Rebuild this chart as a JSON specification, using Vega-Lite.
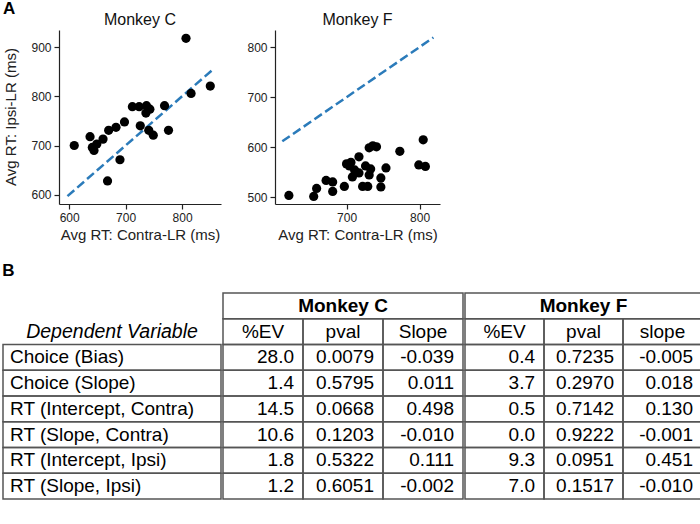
{
  "$schema": "https://vega.github.io/schema/vega-lite/v6.json",
  "padding": {"left": 2, "top": 0, "right": 1, "bottom": 2},
  "background": "white",
  "config": {
    "font": "Liberation Sans",
    "view": {"stroke": null},
    "axis": {"grid": false, "domainColor": "#222", "tickColor": "#222", "labelColor": "#222", "titleColor": "#222", "labelFontSize": 12, "titleFontSize": 15, "titleFontWeight": "normal", "tickSize": 5, "labelPadding": 3, "domainWidth": 1.2, "tickWidth": 1.2},
    "title": {"fontSize": 16, "fontWeight": "normal", "color": "#111"}
  },
  "datasets": {
    "ytitle": [{"t": "Avg RT: Ipsi-LR (ms)"}],
    "ptsC": [{"x":807,"y":918},{"x":850,"y":821},{"x":816,"y":806},{"x":609,"y":700},{"x":637,"y":718},{"x":641,"y":696},{"x":644,"y":690},{"x":649,"y":703},{"x":660,"y":713},{"x":670,"y":731},{"x":683,"y":737},{"x":698,"y":748},{"x":690,"y":671},{"x":668,"y":628},{"x":712,"y":779},{"x":724,"y":779},{"x":737,"y":781},{"x":743,"y":774},{"x":736,"y":766},{"x":769,"y":781},{"x":726,"y":740},{"x":741,"y":731},{"x":749,"y":721},{"x":776,"y":731}],
    "ptsF": [{"x":621,"y":504},{"x":655,"y":502},{"x":659,"y":518},{"x":672,"y":534},{"x":681,"y":531},{"x":681,"y":512},{"x":697,"y":522},{"x":700,"y":567},{"x":704,"y":563},{"x":706,"y":570},{"x":708,"y":541},{"x":711,"y":555},{"x":717,"y":581},{"x":717,"y":549},{"x":726,"y":563},{"x":722,"y":522},{"x":729,"y":522},{"x":731,"y":545},{"x":731,"y":599},{"x":736,"y":603},{"x":741,"y":601},{"x":733,"y":557},{"x":747,"y":539},{"x":747,"y":521},{"x":754,"y":559},{"x":773,"y":592},{"x":799,"y":565},{"x":805,"y":615},{"x":808,"y":562}],
    "lineC": [{"x":597,"y":597},{"x":857,"y":857}],
    "lineF": [{"x":612,"y":612},{"x":819,"y":819}],
    "labels": [
      {"row":"sub","kind":"head","col":"label","text":"Dependent Variable"},
      {"row":"Choice (Bias)","kind":"body","col":"label","text":"Choice (Bias)"},
      {"row":"Choice (Slope)","kind":"body","col":"label","text":"Choice (Slope)"},
      {"row":"RT (Intercept, Contra)","kind":"body","col":"label","text":"RT (Intercept, Contra)"},
      {"row":"RT (Slope, Contra)","kind":"body","col":"label","text":"RT (Slope, Contra)"},
      {"row":"RT (Intercept, Ipsi)","kind":"body","col":"label","text":"RT (Intercept, Ipsi)"},
      {"row":"RT (Slope, Ipsi)","kind":"body","col":"label","text":"RT (Slope, Ipsi)"}
    ],
    "cells": [
      {"monkey":"C","row":"hdr","col":"all","text":"Monkey C"},
      {"monkey":"C","row":"sub","col":"ev","text":"%EV"},
      {"monkey":"C","row":"sub","col":"pval","text":"pval"},
      {"monkey":"C","row":"sub","col":"slope","text":"Slope"},
      {"monkey":"C","row":"Choice (Bias)","col":"ev","text":"28.0"},
      {"monkey":"C","row":"Choice (Bias)","col":"pval","text":"0.0079"},
      {"monkey":"C","row":"Choice (Bias)","col":"slope","text":"-0.039"},
      {"monkey":"C","row":"Choice (Slope)","col":"ev","text":"1.4"},
      {"monkey":"C","row":"Choice (Slope)","col":"pval","text":"0.5795"},
      {"monkey":"C","row":"Choice (Slope)","col":"slope","text":"0.011"},
      {"monkey":"C","row":"RT (Intercept, Contra)","col":"ev","text":"14.5"},
      {"monkey":"C","row":"RT (Intercept, Contra)","col":"pval","text":"0.0668"},
      {"monkey":"C","row":"RT (Intercept, Contra)","col":"slope","text":"0.498"},
      {"monkey":"C","row":"RT (Slope, Contra)","col":"ev","text":"10.6"},
      {"monkey":"C","row":"RT (Slope, Contra)","col":"pval","text":"0.1203"},
      {"monkey":"C","row":"RT (Slope, Contra)","col":"slope","text":"-0.010"},
      {"monkey":"C","row":"RT (Intercept, Ipsi)","col":"ev","text":"1.8"},
      {"monkey":"C","row":"RT (Intercept, Ipsi)","col":"pval","text":"0.5322"},
      {"monkey":"C","row":"RT (Intercept, Ipsi)","col":"slope","text":"0.111"},
      {"monkey":"C","row":"RT (Slope, Ipsi)","col":"ev","text":"1.2"},
      {"monkey":"C","row":"RT (Slope, Ipsi)","col":"pval","text":"0.6051"},
      {"monkey":"C","row":"RT (Slope, Ipsi)","col":"slope","text":"-0.002"},
      {"monkey":"F","row":"hdr","col":"all","text":"Monkey F"},
      {"monkey":"F","row":"sub","col":"ev","text":"%EV"},
      {"monkey":"F","row":"sub","col":"pval","text":"pval"},
      {"monkey":"F","row":"sub","col":"slope","text":"slope"},
      {"monkey":"F","row":"Choice (Bias)","col":"ev","text":"0.4"},
      {"monkey":"F","row":"Choice (Bias)","col":"pval","text":"0.7235"},
      {"monkey":"F","row":"Choice (Bias)","col":"slope","text":"-0.005"},
      {"monkey":"F","row":"Choice (Slope)","col":"ev","text":"3.7"},
      {"monkey":"F","row":"Choice (Slope)","col":"pval","text":"0.2970"},
      {"monkey":"F","row":"Choice (Slope)","col":"slope","text":"0.018"},
      {"monkey":"F","row":"RT (Intercept, Contra)","col":"ev","text":"0.5"},
      {"monkey":"F","row":"RT (Intercept, Contra)","col":"pval","text":"0.7142"},
      {"monkey":"F","row":"RT (Intercept, Contra)","col":"slope","text":"0.130"},
      {"monkey":"F","row":"RT (Slope, Contra)","col":"ev","text":"0.0"},
      {"monkey":"F","row":"RT (Slope, Contra)","col":"pval","text":"0.9222"},
      {"monkey":"F","row":"RT (Slope, Contra)","col":"slope","text":"-0.001"},
      {"monkey":"F","row":"RT (Intercept, Ipsi)","col":"ev","text":"9.3"},
      {"monkey":"F","row":"RT (Intercept, Ipsi)","col":"pval","text":"0.0951"},
      {"monkey":"F","row":"RT (Intercept, Ipsi)","col":"slope","text":"0.451"},
      {"monkey":"F","row":"RT (Slope, Ipsi)","col":"ev","text":"7.0"},
      {"monkey":"F","row":"RT (Slope, Ipsi)","col":"pval","text":"0.1517"},
      {"monkey":"F","row":"RT (Slope, Ipsi)","col":"slope","text":"-0.010"}
    ]
  },
  "spacing": 20,
  "vconcat": [
    {
      "title": {"text": "A", "anchor": "start", "fontSize": 17, "fontWeight": "bold", "color": "#000", "offset": -6},
      "spacing": 9,
      "resolve": {"scale": {"x": "independent", "y": "independent"}},
      "hconcat": [
        {
          "width": 16, "height": 174,
          "data": {"name": "ytitle"},
          "mark": {"type": "text", "angle": 270, "fontSize": 15, "color": "#222"},
          "encoding": {"text": {"field": "t"}}
        },
        {
          "width": 162, "height": 174,
          "title": {"text": "Monkey C", "offset": 2},
          "layer": [
            {
              "data": {"name": "lineC"},
              "mark": {"type": "line", "strokeDash": [9, 4], "strokeWidth": 2.5, "color": "#2b7bba"},
              "encoding": {
                "x": {"field": "x", "type": "quantitative", "scale": {"domain": [582, 869], "nice": false, "zero": false}, "axis": {"values": [600, 700, 800], "title": "Avg RT: Contra-LR (ms)"}},
                "y": {"field": "y", "type": "quantitative", "scale": {"domain": [581, 935], "nice": false, "zero": false}, "axis": {"values": [600, 700, 800, 900], "title": null, "minExtent": 30}}
              }
            },
            {
              "data": {"name": "ptsC"},
              "mark": {"type": "circle", "size": 85, "color": "#000", "opacity": 1},
              "encoding": {
                "x": {"field": "x", "type": "quantitative"},
                "y": {"field": "y", "type": "quantitative"}
              }
            }
          ]
        },
        {
          "width": 165, "height": 174,
          "title": {"text": "Monkey F", "offset": 2},
          "layer": [
            {
              "data": {"name": "lineF"},
              "mark": {"type": "line", "strokeDash": [9, 4], "strokeWidth": 2.5, "color": "#2b7bba"},
              "encoding": {
                "x": {"field": "x", "type": "quantitative", "scale": {"domain": [602, 828], "nice": false, "zero": false}, "axis": {"values": [700, 800], "title": "Avg RT: Contra-LR (ms)"}},
                "y": {"field": "y", "type": "quantitative", "scale": {"domain": [487, 834], "nice": false, "zero": false}, "axis": {"values": [500, 600, 700, 800], "title": null, "minExtent": 45}}
              }
            },
            {
              "data": {"name": "ptsF"},
              "mark": {"type": "circle", "size": 85, "color": "#000", "opacity": 1},
              "encoding": {
                "x": {"field": "x", "type": "quantitative"},
                "y": {"field": "y", "type": "quantitative"}
              }
            }
          ]
        }
      ]
    },
    {
      "title": {"text": "B", "anchor": "start", "fontSize": 17, "fontWeight": "bold", "color": "#000", "offset": 12},
      "spacing": 0,
      "resolve": {"scale": {"x": "independent", "y": "independent"}},
      "hconcat": [
        {
          "width": 218, "height": 206,
          "data": {"name": "labels"},
          "encoding": {
            "x": {"field": "col", "type": "nominal", "axis": null, "scale": {"type": "band", "paddingInner": 0, "paddingOuter": 0}},
            "y": {"field": "row", "type": "nominal", "axis": null, "scale": {"type": "band", "paddingInner": 0, "paddingOuter": 0, "domain": ["hdr", "sub", "Choice (Bias)", "Choice (Slope)", "RT (Intercept, Contra)", "RT (Slope, Contra)", "RT (Intercept, Ipsi)", "RT (Slope, Ipsi)"]}}
          },
          "layer": [
            {
              "transform": [{"filter": "datum.kind == 'body'"}],
              "mark": {"type": "rect", "fill": "transparent", "stroke": "#555", "strokeWidth": 1.5}
            },
            {
              "transform": [{"filter": "datum.kind == 'head'"}],
              "mark": {"type": "text", "fontSize": 19.5, "fontStyle": "italic", "color": "#000"},
              "encoding": {"text": {"field": "text"}}
            },
            {
              "transform": [{"filter": "datum.kind == 'body'"}],
              "mark": {"type": "text", "fontSize": 19, "align": "left", "dx": 7, "color": "#000"},
              "encoding": {
                "x": {"field": "col", "type": "nominal", "bandPosition": 0},
                "text": {"field": "text"}
              }
            }
          ]
        },
        {
          "width": 240, "height": 206,
          "data": {"name": "cells"},
          "transform": [{"filter": "datum.monkey == 'C'"}],
          "encoding": {
            "y": {"field": "row", "type": "nominal", "axis": null, "scale": {"type": "band", "paddingInner": 0, "paddingOuter": 0, "domain": ["hdr", "sub", "Choice (Bias)", "Choice (Slope)", "RT (Intercept, Contra)", "RT (Slope, Contra)", "RT (Intercept, Ipsi)", "RT (Slope, Ipsi)"]}}
          },
          "layer": [
            {
              "transform": [{"filter": "datum.row == 'hdr'"}],
              "mark": {"type": "rect", "fill": "transparent", "stroke": "#555", "strokeWidth": 1.5}
            },
            {
              "transform": [{"filter": "datum.row != 'hdr'"}],
              "mark": {"type": "rect", "fill": "transparent", "stroke": "#555", "strokeWidth": 1.5},
              "encoding": {"x": {"field": "col", "type": "nominal", "axis": null, "scale": {"type": "band", "paddingInner": 0, "paddingOuter": 0, "domain": ["ev", "pval", "slope"]}}}
            },
            {
              "transform": [{"filter": "datum.row == 'hdr'"}],
              "mark": {"type": "text", "fontSize": 19, "fontWeight": "bold", "color": "#000"},
              "encoding": {"text": {"field": "text"}}
            },
            {
              "transform": [{"filter": "datum.row == 'sub'"}],
              "mark": {"type": "text", "fontSize": 19, "color": "#000"},
              "encoding": {"x": {"field": "col", "type": "nominal", "axis": null}, "text": {"field": "text"}}
            },
            {
              "transform": [{"filter": "datum.row != 'sub' && datum.row != 'hdr'"}],
              "mark": {"type": "text", "fontSize": 19, "align": "right", "dx": -9, "color": "#000"},
              "encoding": {"x": {"field": "col", "type": "nominal", "axis": null, "bandPosition": 1}, "text": {"field": "text"}}
            }
          ]
        },
        {
          "width": 237, "height": 206,
          "data": {"name": "cells"},
          "transform": [{"filter": "datum.monkey == 'F'"}],
          "encoding": {
            "y": {"field": "row", "type": "nominal", "axis": null, "scale": {"type": "band", "paddingInner": 0, "paddingOuter": 0, "domain": ["hdr", "sub", "Choice (Bias)", "Choice (Slope)", "RT (Intercept, Contra)", "RT (Slope, Contra)", "RT (Intercept, Ipsi)", "RT (Slope, Ipsi)"]}}
          },
          "layer": [
            {
              "transform": [{"filter": "datum.row == 'hdr'"}],
              "mark": {"type": "rect", "fill": "transparent", "stroke": "#555", "strokeWidth": 1.5}
            },
            {
              "transform": [{"filter": "datum.row != 'hdr'"}],
              "mark": {"type": "rect", "fill": "transparent", "stroke": "#555", "strokeWidth": 1.5},
              "encoding": {"x": {"field": "col", "type": "nominal", "axis": null, "scale": {"type": "band", "paddingInner": 0, "paddingOuter": 0, "domain": ["ev", "pval", "slope"]}}}
            },
            {
              "transform": [{"filter": "datum.row == 'hdr'"}],
              "mark": {"type": "text", "fontSize": 19, "fontWeight": "bold", "color": "#000"},
              "encoding": {"text": {"field": "text"}}
            },
            {
              "transform": [{"filter": "datum.row == 'sub'"}],
              "mark": {"type": "text", "fontSize": 19, "color": "#000"},
              "encoding": {"x": {"field": "col", "type": "nominal", "axis": null}, "text": {"field": "text"}}
            },
            {
              "transform": [{"filter": "datum.row != 'sub' && datum.row != 'hdr'"}],
              "mark": {"type": "text", "fontSize": 19, "align": "right", "dx": -9, "color": "#000"},
              "encoding": {"x": {"field": "col", "type": "nominal", "axis": null, "bandPosition": 1}, "text": {"field": "text"}}
            }
          ]
        }
      ]
    }
  ]
}
